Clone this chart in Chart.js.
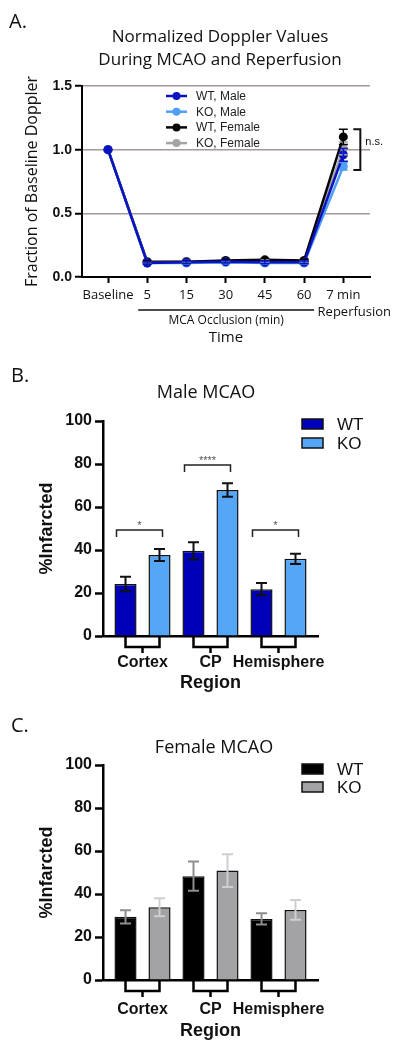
<!DOCTYPE html>
<html>
<head>
<meta charset="utf-8">
<script src="https://cdn.jsdelivr.net/npm/chart.js@4.4.1/dist/chart.umd.min.js"></script>
<style>
  html, body { margin: 0; padding: 0; background: #fff; }
  body { width: 402px; height: 1050px; position: relative; overflow: hidden; }
  .panel { position: absolute; left: 0; width: 402px; height: 350px; }
</style>
</head>
<body>
<div class="panel" style="top:0"><canvas id="dopplerChart" width="402" height="350"></canvas></div>
<div class="panel" style="top:350px"><canvas id="maleChart" width="402" height="350"></canvas></div>
<div class="panel" style="top:700px"><canvas id="femaleChart" width="402" height="350"></canvas></div>
<script>
// ── DATA ──
const timeLabels = ['Baseline', '5', '15', '30', '45', '60', '7 min'];
const wtMale = [1.00, 0.11, 0.115, 0.12, 0.115, 0.115, 0.96];
const wtMaleErr = [0, 0.01, 0.01, 0.01, 0.01, 0.01, 0.05];
const koMale = [1.00, 0.11, 0.11, 0.115, 0.11, 0.11, 0.87];
const koMaleErr = [0, 0.01, 0.01, 0.01, 0.01, 0.01, 0.03];
const wtFemale = [1.00, 0.12, 0.12, 0.13, 0.135, 0.13, 1.10];
const wtFemaleErr = [0, 0.01, 0.01, 0.01, 0.01, 0.01, 0.06];
const koFemale = [1.00, 0.115, 0.12, 0.125, 0.13, 0.125, 1.01];
const koFemaleErr = [0, 0.01, 0.01, 0.01, 0.01, 0.01, 0.05];
const dopplerTicks = [0, 0.5, 1.0, 1.5];

const regions = ['Cortex', 'CP', 'Hemisphere'];
const maleWT = [24.2, 39.6, 21.8];
const maleWTErr = [3.4, 4.0, 2.9];
const maleKO = [37.7, 67.9, 35.9];
const maleKOErr = [2.8, 3.1, 2.4];
const maleSig = ['*', '****', '*'];
const femaleWT = [29.4, 48.3, 28.4];
const femaleWTErr = [3.1, 6.8, 2.6];
const femaleKO = [33.8, 50.9, 32.6];
const femaleKOErr = [4.2, 7.6, 4.6];
const infarctTicks = [0, 20, 40, 60, 80, 100];

const SANS = '"Liberation Sans", Arial, sans-serif';
const MYR = '"Open Sans", sans-serif';

const pts = vals => vals.map((v, i) => ({ x: i, y: v }));

// ── ERROR BARS (drawn from each dataset's errors array) ──
const errorBars = {
  id: 'errorBars',
  afterDatasetsDraw(chart) {
    const { ctx, scales: { y } } = chart;
    const sets = chart.data.datasets;
    for (let di = sets.length - 1; di >= 0; di--) {
      const ds = sets[di];
      if (!ds.errors) continue;
      const meta = chart.getDatasetMeta(di);
      ctx.save();
      ctx.strokeStyle = ds.errorColor || ds.borderColor;
      ctx.lineWidth = ds.errorWidth || 2;
      const cap = (ds.capWidth || 10) / 2;
      meta.data.forEach((el, i) => {
        const e = ds.errors[i];
        if (!e) return;
        const v = ds.data[i].y;
        const top = y.getPixelForValue(v + e);
        const bot = y.getPixelForValue(v - e);
        ctx.beginPath();
        ctx.moveTo(el.x, top); ctx.lineTo(el.x, bot);
        ctx.moveTo(el.x - cap, top); ctx.lineTo(el.x + cap, top);
        ctx.moveTo(el.x - cap, bot); ctx.lineTo(el.x + cap, bot);
        ctx.stroke();
      });
      ctx.restore();
    }
  }
};

// ── PANEL A ──
function lineSeries(label, vals, errs, color) {
  return {
    label, data: pts(vals), errors: errs,
    borderColor: color, backgroundColor: color,
    borderWidth: 2.5, pointRadius: 4.5, pointBorderWidth: 0,
    errorWidth: 1.5, capWidth: 9
  };
}

const dopplerDecor = {
  id: 'dopplerDecor',
  afterDraw(chart) {
    const { ctx, scales: { x, y } } = chart;
    ctx.save();
    ctx.fillStyle = '#111';
    ctx.textBaseline = 'middle';
    ctx.font = '20px ' + MYR;
    ctx.fillText('A.', 9, 22);

    ctx.textAlign = 'center';
    ctx.font = '17px ' + MYR;
    ctx.fillText('Normalized Doppler Values', 220, 37);
    ctx.fillText('During MCAO and Reperfusion', 220, 60);

    // occlusion span under the x axis
    const x0 = x.getPixelForValue(1) - 9, x1 = x.getPixelForValue(5) + 10;
    ctx.strokeStyle = '#111';
    ctx.lineWidth = 1.5;
    ctx.beginPath(); ctx.moveTo(x0, 310); ctx.lineTo(x1, 310); ctx.stroke();
    ctx.font = '12px ' + MYR;
    ctx.fillText('MCA Occlusion (min)', (x0 + x1) / 2, 321);
    ctx.font = '13px ' + MYR;
    ctx.fillText('Reperfusion', x.getPixelForValue(6) + 11, 312);

    // n.s. bracket across the reperfusion points
    const last = timeLabels.length - 1;
    const sets = chart.data.datasets;
    const hi = y.getPixelForValue(Math.max(...sets.map(d => d.data[last].y + d.errors[last])));
    const lo = y.getPixelForValue(Math.min(...sets.map(d => d.data[last].y - d.errors[last])));
    const bx = x.getPixelForValue(last) + 17;
    ctx.lineWidth = 2;
    ctx.beginPath();
    ctx.moveTo(bx - 7, hi); ctx.lineTo(bx, hi); ctx.lineTo(bx, lo); ctx.lineTo(bx - 7, lo);
    ctx.stroke();
    ctx.textAlign = 'left';
    ctx.font = '11px ' + SANS;
    ctx.fillText('n.s.', bx + 5, hi + 13);

    // legend
    ctx.font = '12px ' + SANS;
    sets.forEach((d, i) => {
      const ly = 96 + i * 15.7;
      ctx.strokeStyle = d.borderColor;
      ctx.fillStyle = d.borderColor;
      ctx.lineWidth = 2.5;
      ctx.beginPath(); ctx.moveTo(166, ly); ctx.lineTo(187, ly); ctx.stroke();
      ctx.beginPath(); ctx.arc(176.5, ly, 4, 0, Math.PI * 2); ctx.fill();
      ctx.fillStyle = '#222';
      ctx.fillText(d.label, 196, ly + 0.5);
    });
    ctx.restore();
  }
};

new Chart(document.getElementById('dopplerChart'), {
  type: 'line',
  data: {
    datasets: [
      lineSeries('WT, Male', wtMale, wtMaleErr, '#0c12c2'),
      lineSeries('KO, Male', koMale, koMaleErr, '#4f9ff5'),
      lineSeries('WT, Female', wtFemale, wtFemaleErr, '#050505'),
      lineSeries('KO, Female', koFemale, koFemaleErr, '#a4a4a4')
    ]
  },
  options: {
    responsive: false,
    animation: false,
    layout: { padding: { top: 86, right: 32, bottom: 0, left: 0 } },
    plugins: { legend: { display: false }, tooltip: { enabled: false } },
    scales: {
      x: {
        type: 'linear', min: -0.663, max: 6.68,
        afterBuildTicks: s => { s.ticks = timeLabels.map((_, i) => ({ value: i })); },
        afterFit: s => { s.height = 73; },
        ticks: { callback: v => timeLabels[v], autoSkip: false, maxRotation: 0, padding: 4,
                 color: '#111', font: { family: MYR, size: 13 } },
        grid: { drawOnChartArea: false, drawTicks: true, tickLength: 6, tickColor: '#000', tickWidth: 2 },
        border: { color: '#000', width: 2 },
        title: { display: true, text: 'Time', color: '#111', font: { family: MYR, size: 15 }, padding: { top: 0, bottom: 3 } }
      },
      y: {
        min: 0, max: 1.5,
        afterBuildTicks: s => { s.ticks = dopplerTicks.map(v => ({ value: v })); },
        afterFit: s => { s.width = 82; },
        ticks: { callback: v => v.toFixed(1), padding: 3, color: '#111',
                 font: { family: SANS, size: 14, weight: 'bold' } },
        grid: { color: c => (c.tick && c.tick.value === 0 ? 'rgba(0,0,0,0)' : '#a69898'),
                lineWidth: 1.5, tickLength: 7, tickColor: '#000', tickWidth: 2 },
        border: { color: '#000', width: 2 },
        title: { display: true, text: 'Fraction of Baseline Doppler', color: '#111',
                 font: { family: MYR, size: 16 }, padding: { top: 23, bottom: 0 } }
      }
    }
  },
  plugins: [errorBars, dopplerDecor]
});

// ── PANELS B & C ──
function infarctDecor(cfg) {
  return {
    id: 'infarctDecor',
    afterDraw(chart) {
      const { ctx, chartArea, scales: { x, y } } = chart;
      ctx.save();
      ctx.fillStyle = '#111';
      ctx.textBaseline = 'middle';
      ctx.font = '20px ' + MYR;
      ctx.fillText(cfg.letter, 11, 26);
      ctx.textAlign = 'center';
      ctx.font = '18px ' + MYR;
      ctx.fillText(cfg.title, cfg.titleX, cfg.titleY);

      // legend swatches
      ctx.textAlign = 'left';
      ctx.font = '17px ' + SANS;
      chart.data.datasets.forEach((d, i) => {
        const ly = cfg.legendTop + i * cfg.legendGap;
        ctx.fillStyle = d.backgroundColor;
        ctx.fillRect(302, ly, 21, 10);
        ctx.strokeStyle = '#111';
        ctx.lineWidth = 1.5;
        ctx.strokeRect(302, ly, 21, 10);
        ctx.fillStyle = '#111';
        ctx.fillText(d.label, 337, ly + 6);
      });

      // grouping brackets under each region
      const half = (x.getPixelForValue(1) - x.getPixelForValue(0)) / 4;
      ctx.strokeStyle = '#000';
      ctx.lineWidth = 2.5;
      regions.forEach((_, i) => {
        const cx = x.getPixelForValue(i);
        const y0 = chartArea.bottom + 1, y1 = y0 + 10;
        ctx.beginPath();
        ctx.moveTo(cx - half, y0); ctx.lineTo(cx - half, y1); ctx.lineTo(cx + half, y1); ctx.lineTo(cx + half, y0);
        ctx.moveTo(cx, y1); ctx.lineTo(cx, y1 + 6);
        ctx.stroke();
      });

      // significance brackets
      if (cfg.sig) {
        ctx.lineWidth = 1.5;
        ctx.strokeStyle = '#222';
        ctx.fillStyle = '#555';
        ctx.font = '11px ' + SANS;
        ctx.textAlign = 'center';
        ctx.textBaseline = 'alphabetic';
        cfg.sig.forEach((s, i) => {
          const cx = x.getPixelForValue(i);
          const by = y.getPixelForValue(cfg.sigLevels[i]);
          ctx.beginPath();
          ctx.moveTo(cx - 26, by + 7); ctx.lineTo(cx - 26, by); ctx.lineTo(cx + 20, by); ctx.lineTo(cx + 20, by + 7);
          ctx.stroke();
          ctx.fillText(s, cx - 3, by - 1);
        });
      }
      ctx.restore();
    }
  };
}

function makeInfarctChart(id, cfg) {
  return new Chart(document.getElementById(id), {
    type: 'bar',
    data: {
      datasets: [
        { label: 'WT', data: pts(cfg.wt), errors: cfg.wtErr, backgroundColor: cfg.colors[0],
          borderColor: '#111', borderWidth: 1.5, errorColor: cfg.errColors[0], capWidth: 11 },
        { label: 'KO', data: pts(cfg.ko), errors: cfg.koErr, backgroundColor: cfg.colors[1],
          borderColor: '#111', borderWidth: 1.5, errorColor: cfg.errColors[1], capWidth: 11 }
      ]
    },
    options: {
      responsive: false,
      animation: false,
      categoryPercentage: 1.0,
      barPercentage: 0.65,
      layout: { padding: { top: cfg.top, right: 84, bottom: 0, left: 0 } },
      plugins: { legend: { display: false }, tooltip: { enabled: false } },
      scales: {
        x: {
          type: 'linear', min: -0.581, max: 2.581, offset: false,
          afterBuildTicks: s => { s.ticks = regions.map((_, i) => ({ value: i })); },
          afterFit: s => { s.height = cfg.xHeight; },
          ticks: { callback: v => regions[v], autoSkip: false, maxRotation: 0, padding: cfg.tickPad,
                   color: '#111', font: { family: SANS, size: 16, weight: 'bold' } },
          grid: { display: false, drawTicks: false, offset: false },
          border: { color: '#000', width: 2.5 },
          title: { display: true, text: 'Region', color: '#111',
                   font: { family: SANS, size: 18, weight: 'bold' }, padding: { top: 0, bottom: cfg.titlePad } }
        },
        y: {
          min: 0, max: 100,
          afterBuildTicks: s => { s.ticks = infarctTicks.map(v => ({ value: v })); },
          afterFit: s => { s.width = 103; },
          ticks: { padding: 3, color: '#111', font: { family: SANS, size: 16, weight: 'bold' } },
          grid: { drawOnChartArea: false, tickLength: 8, tickColor: '#000', tickWidth: 2.5 },
          border: { color: '#000', width: 2.5 },
          title: { display: true, text: '%Infarcted', color: '#111',
                   font: { family: SANS, size: 18, weight: 'bold' }, padding: { top: 36, bottom: 0 } }
        }
      }
    },
    plugins: [errorBars, infarctDecor(cfg)]
  });
}

makeInfarctChart('maleChart', {
  wt: maleWT, wtErr: maleWTErr, ko: maleKO, koErr: maleKOErr,
  colors: ['#0000b9', '#56a6f7'], errColors: ['#111', '#111'],
  top: 71, xHeight: 64, tickPad: 17, titlePad: 6,
  letter: 'B.', title: 'Male MCAO', titleX: 206, titleY: 43,
  legendTop: 69, legendGap: 19,
  sig: maleSig, sigLevels: [49.3, 79.5, 49.3]
});

makeInfarctChart('femaleChart', {
  wt: femaleWT, wtErr: femaleWTErr, ko: femaleKO, koErr: femaleKOErr,
  colors: ['#000000', '#a3a3a6'], errColors: ['#8e8e8e', '#cfcfcf'],
  top: 65, xHeight: 70, tickPad: 20, titlePad: 8,
  letter: 'C.', title: 'Female MCAO', titleX: 214, titleY: 48,
  legendTop: 64, legendGap: 18
});
</script>
</body>
</html>
